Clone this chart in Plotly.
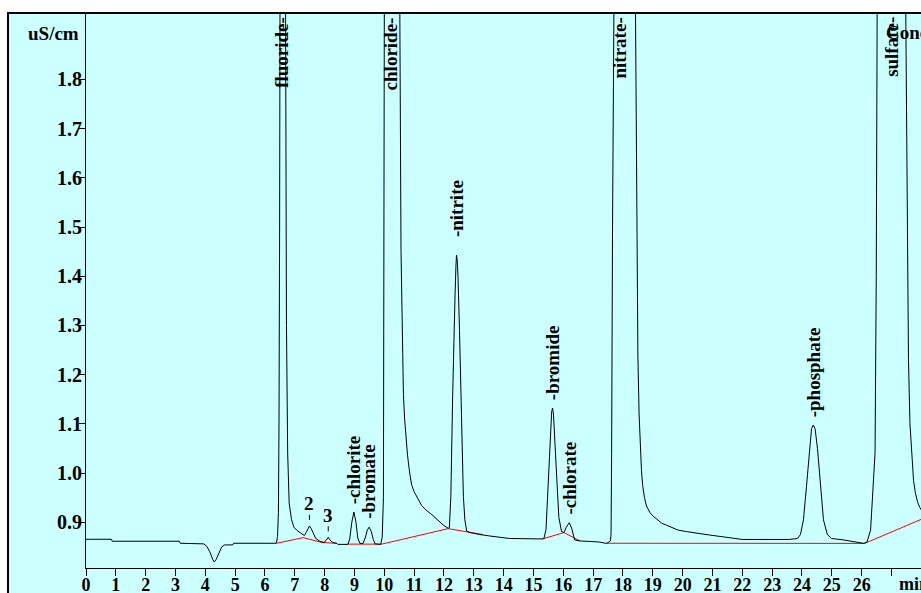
import plotly.graph_objects as go

# ---------------- data ----------------
# chromatogram trace: retention time (min) and conductivity (uS/cm)
time_min = [
    0.00, 0.85, 0.88, 3.13, 3.16, 3.85, 3.95, 4.05, 4.15, 4.25, 4.30, 4.36, 4.45, 4.55, 4.65,
    4.92, 4.95, 6.38, 6.42, 6.45, 6.47, 6.49, 6.55, 6.69, 6.72, 6.76, 6.81, 6.89, 6.97, 7.06,
    7.22, 7.32, 7.38, 7.44, 7.49, 7.55, 7.62, 7.70, 7.85, 7.98, 8.05, 8.12, 8.19, 8.27, 8.41,
    8.44, 8.78, 8.84, 8.91, 8.98, 9.05, 9.11, 9.18, 9.29, 9.37, 9.43, 9.49, 9.56, 9.63, 9.69,
    9.88, 9.93, 9.97, 10.00, 10.22, 10.52, 10.56, 10.60, 10.64, 10.68, 10.73, 10.78, 10.85,
    10.92, 11.00, 11.08, 11.25, 11.36,
    11.64, 11.97, 12.14, 12.18, 12.23, 12.29, 12.33, 12.37, 12.40, 12.42, 12.44, 12.47, 12.52,
    12.57, 12.65, 12.70, 12.76, 12.87, 13.00, 13.20, 13.54, 13.90, 14.20, 15.30, 15.35, 15.42,
    15.50, 15.56, 15.61, 15.64, 15.67, 15.72, 15.78, 15.85, 15.94, 16.02, 16.10, 16.20, 16.28,
    16.38, 16.56, 17.17, 17.45, 17.58, 17.60, 17.62, 17.65, 17.67, 17.90, 18.42, 18.46, 18.50,
    18.54, 18.58, 18.62, 18.66, 18.72, 18.79, 18.90, 19.00, 19.30, 19.46, 19.85, 20.13, 20.50,
    20.90, 21.40,
    21.90, 22.00, 23.58, 23.85, 23.95, 24.05, 24.15, 24.25, 24.32, 24.38, 24.44, 24.52, 24.62,
    24.72, 24.85, 24.99, 25.40, 26.07, 26.18, 26.22, 26.30, 26.45, 26.49, 26.52, 26.98, 27.48,
    27.53, 27.57, 27.62, 27.68, 27.74, 27.80, 27.88, 27.95, 28.00,
]
signal_uScm = [
    0.8654, 0.8654, 0.8614, 0.8614, 0.8573, 0.8573, 0.8560, 0.8510, 0.8400, 0.8240, 0.8193, 0.8240, 0.8380, 0.8500, 0.8539,
    0.8539, 0.8573, 0.8573, 0.8710, 0.9200, 1.1000, 1.5000, 3.5000, 1.9350, 1.3000, 1.0410, 0.9390, 0.9050, 0.8900, 0.8840,
    0.8770, 0.8730, 0.8790, 0.8880, 0.8925, 0.8870, 0.8760, 0.8670, 0.8610, 0.8590, 0.8630, 0.8695, 0.8630, 0.8590, 0.8570,
    0.8550, 0.8550, 0.8660, 0.9000, 0.9209, 0.9000, 0.8680, 0.8570, 0.8570, 0.8700, 0.8840, 0.8900, 0.8820, 0.8650, 0.8560,
    0.8550, 0.8700, 0.9500, 1.9350, 3.8000, 1.9350, 1.4500, 1.2500, 1.1600, 1.1100, 1.0650, 1.0350, 1.0000,
    0.9750, 0.9620, 0.9520, 0.9340, 0.9270,
    0.9130, 0.8945, 0.8878, 0.8890, 0.9520, 1.1550, 1.2800, 1.3600, 1.4200, 1.4430, 1.4350, 1.4000, 1.2900,
    1.1550, 0.9520, 0.9050, 0.8820, 0.8790, 0.8770, 0.8750, 0.8720, 0.8690, 0.8670, 0.8660, 0.8670, 0.8850,
    0.9860, 1.0800, 1.1250, 1.1320, 1.1200, 1.0600, 0.9860, 0.9100, 0.8810, 0.8790, 0.8900, 0.8990, 0.8880,
    0.8640, 0.8620, 0.8600, 0.8570, 0.8620, 0.8750, 1.0400, 1.5000, 1.9350, 3.9000, 1.9350, 1.5000, 1.2400,
    1.1200, 1.0550, 1.0050, 0.9750, 0.9500, 0.9330, 0.9200, 0.9130, 0.8980, 0.8940, 0.8840, 0.8810, 0.8770,
    0.8740, 0.8700,
    0.8670, 0.8650, 0.8650, 0.8670, 0.8750, 0.9050, 0.9720, 1.0500, 1.0900, 1.0976, 1.0900, 1.0500, 0.9720,
    0.9050, 0.8750, 0.8670, 0.8640, 0.8570, 0.8600, 0.8670, 0.8840, 1.0410, 1.4000, 1.9350, 3.9000, 1.9350,
    1.4500, 1.2300, 1.1000, 1.0300, 0.9850, 0.9600, 0.9400, 0.9300, 0.9250,
]

# integration baselines (red), segments separated by None
baseline_time = [6.39, 7.28, 7.90, 8.41, None, 8.74, 9.91, 12.14, 13.30, None,
                 15.30, 16.02, 16.56, None, 17.45, 26.10, 28.00]
baseline_uScm = [0.8573, 0.8687, 0.8590, 0.8570, None, 0.8555, 0.8555, 0.8870, 0.8750, None,
                 0.8660, 0.8790, 0.8620, None, 0.8573, 0.8570, 0.9060]

# peak labels
peak_names = ["fluoride", "2", "3", "chlorite", "bromate", "chloride", "nitrite",
              "bromide", "chlorate", "nitrate", "phosphate", "sulfate"]
peak_times = [6.55, 7.49, 8.12, 8.98, 9.49, 10.22, 12.42, 15.64, 16.20, 17.90, 24.38, 26.98]
peak_heights = [None, 0.8925, 0.8695, 0.9209, 0.8900, None, 1.4430, 1.1320, 0.8990, None, 1.0976, None]

x_tick_values = list(range(0, 28))
x_tick_labels = [str(v) for v in range(0, 27)] + [""]
y_tick_values = [0.9, 1.0, 1.1, 1.2, 1.3, 1.4, 1.5, 1.6, 1.7, 1.8]
y_axis_unit = "uS/cm"
x_axis_unit = "min"
conc_label = "Conc"

# ---------------- figure ----------------
W, H = 921, 593
L, T, R, B = 86, 13, 0, 25
plot_w = W - L - R
plot_h = H - T - B

CYAN = "#ccffff"
FONT = "Liberation Serif"

fig = go.Figure()
fig.add_trace(go.Scatter(x=baseline_time, y=baseline_uScm, mode="lines",
                         line=dict(color="#ff0000", width=1), connectgaps=False,
                         hoverinfo="skip", showlegend=False))
fig.add_trace(go.Scatter(x=time_min, y=signal_uScm, mode="lines",
                         line=dict(color="#000000", width=1), showlegend=False))

annotations = []
label_gap = {"nitrite": 17}
for name, t, h in zip(peak_names, peak_times, peak_heights):
    if h is None:
        # off-scale peak: label hangs from top of plot
        annotations.append(dict(x=t, y=1, xref="x", yref="paper", text=name + "-",
                                textangle=-90, showarrow=False, xanchor="center",
                                yanchor="top", yshift=-3, borderpad=0,
                                font=dict(family=FONT, size=19, color="black", weight="bold")))
    elif name.isdigit():
        annotations.append(dict(x=t, y=h, xref="x", yref="y", text=name,
                                showarrow=True, arrowhead=0, arrowwidth=1, arrowcolor="black",
                                ax=0, ay=-22, standoff=6, startstandoff=0, borderpad=0,
                                font=dict(family=FONT, size=19, color="black", weight="bold")))
    else:
        annotations.append(dict(x=t, y=h, xref="x", yref="y", text="-" + name,
                                textangle=-90, showarrow=False, xanchor="center",
                                yanchor="bottom", yshift=label_gap.get(name, 7), borderpad=0,
                                font=dict(family=FONT, size=19, color="black", weight="bold")))

annotations.append(dict(x=0, y=1, xref="paper", yref="paper", text=y_axis_unit,
                        showarrow=False, xanchor="right", yanchor="middle",
                        xshift=-5, yshift=-20,
                        font=dict(family=FONT, size=19, color="black", weight="bold")))
annotations.append(dict(x=27.17, y=0, xref="x", yref="paper", text=x_axis_unit,
                        showarrow=False, xanchor="left", yanchor="top", yshift=-4,
                        font=dict(family=FONT, size=18, color="black", weight="bold")))
annotations.append(dict(x=26.75, y=1, xref="x", yref="paper", text=conc_label,
                        showarrow=False, xanchor="left", yanchor="middle", yshift=-19,
                        font=dict(family=FONT, size=19, color="black", weight="bold")))

# outer frame of the panel
frame = dict(type="rect", xref="paper", yref="paper", layer="below",
             x0=-(L - 8) / plot_w, x1=1.2, y0=-0.2, y1=1.0,
             line=dict(color="black", width=2), fillcolor=CYAN)

fig.update_layout(
    width=W, height=H,
    margin=dict(l=L, r=R, t=T, b=B, pad=0, autoexpand=False),
    paper_bgcolor="white", plot_bgcolor=CYAN,
    shapes=[frame], annotations=annotations,
    xaxis=dict(range=[0, 27.99], tickmode="array", tickvals=x_tick_values, ticktext=x_tick_labels,
               automargin=False,
               ticks="outside", ticklen=7, tickcolor="black", tickwidth=1, ticklabelstandoff=-7,
               showline=True, linecolor="black", linewidth=1, showgrid=False, zeroline=False,
               tickfont=dict(family=FONT, size=18, color="black", weight="bold")),
    yaxis=dict(range=[0.807, 1.935], tickmode="array", tickvals=y_tick_values,
               ticktext=[f"{v:.1f}" for v in y_tick_values], automargin=False,
               ticks="outside", ticklen=6, tickcolor="black", tickwidth=1, ticklabelstandoff=-7,
               showline=True, linecolor="black", linewidth=1, showgrid=False, zeroline=False,
               tickfont=dict(family=FONT, size=20, color="black", weight="bold")),
    hovermode=False,
)

fig.write_html("out.html")
